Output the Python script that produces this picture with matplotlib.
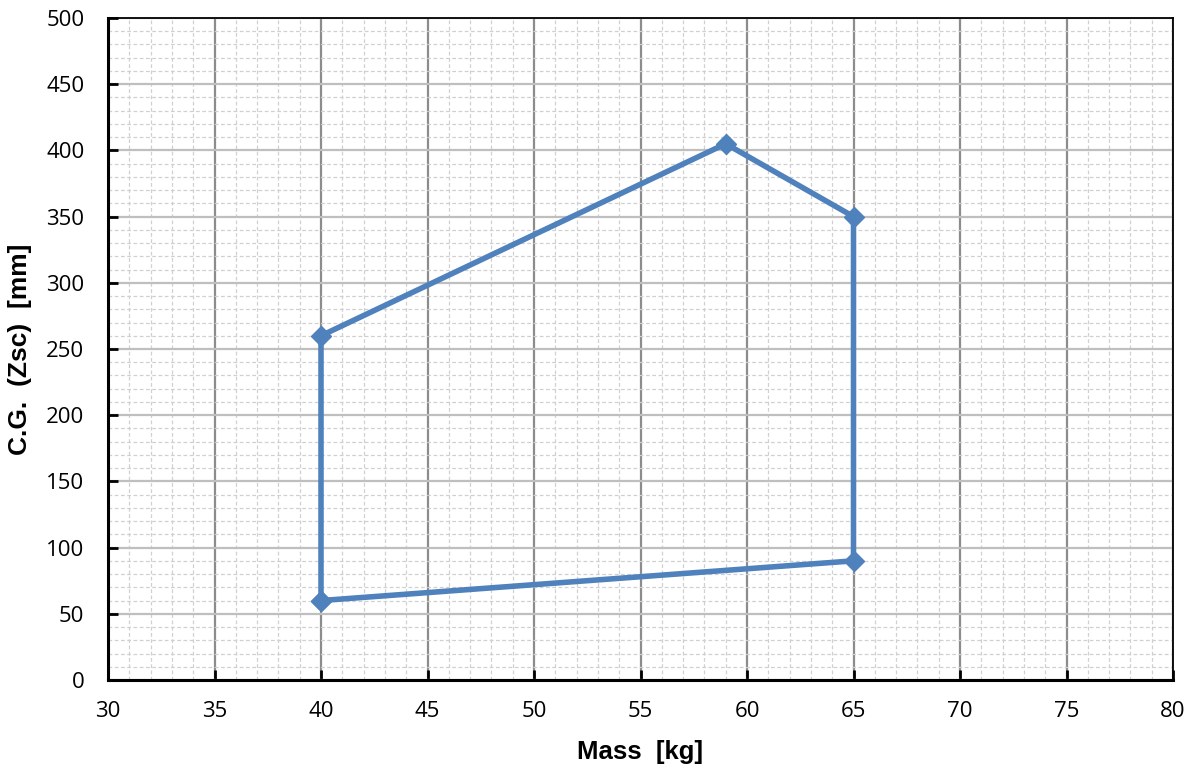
import matplotlib

matplotlib.use("Agg")
import matplotlib.pyplot as plt
from matplotlib.ticker import MultipleLocator

# envelope corners (mass kg, C.G. Zsc mm), closed polygon
mass = [40, 40, 59, 65, 65, 40]
zsc = [60, 260, 405, 350, 90, 60]

LINE_BLUE = "#4f81bd"

fig = plt.figure(figsize=(11.92, 7.72), dpi=100)
ax = fig.add_axes([108 / 1192, 1 - 680 / 772, (1173 - 108) / 1192, (680 - 18) / 772])

ax.set_xlim(30, 80)
ax.set_ylim(0, 500)
ax.xaxis.set_major_locator(MultipleLocator(5))
ax.xaxis.set_minor_locator(MultipleLocator(1))
ax.yaxis.set_major_locator(MultipleLocator(50))
ax.yaxis.set_minor_locator(MultipleLocator(10))

ax.grid(True, axis="x", which="major", color="#8c8c8c", linewidth=1.6)
ax.grid(True, axis="y", which="major", color="#bfbfbf", linewidth=1.6)
ax.grid(True, which="minor", color="#d0d0d0", linestyle=(0, (3, 2)), linewidth=0.9)
ax.set_axisbelow(True)

ax.plot(mass, zsc, color=LINE_BLUE, linewidth=4, marker="D", markersize=10.5,
        markerfacecolor=LINE_BLUE, markeredgecolor=LINE_BLUE, zorder=3)

for side in ("left", "bottom"):
    ax.spines[side].set_linewidth(2.2)
for side in ("top", "right"):
    ax.spines[side].set_linewidth(1.3)
ax.tick_params(which="major", direction="in", length=7, width=2, labelsize=16)
ax.tick_params(axis="y", pad=17)
ax.tick_params(axis="x", pad=15)
ax.tick_params(which="minor", length=0)
for lab in ax.get_xticklabels() + ax.get_yticklabels():
    lab.set_family("Open Sans")

ax.set_xlabel("Mass  [kg]", fontsize=18.5, fontweight="bold", family="Liberation Sans")
ax.set_ylabel("C.G.  (Zsc)  [mm]", fontsize=19, fontweight="bold", family="Liberation Sans")
ax.xaxis.set_label_coords(0.5, -60 / 662, transform=ax.transAxes)
ax.yaxis.set_label_coords(-76 / 1065, 0.5, transform=ax.transAxes)

fig.savefig("out.png", dpi=100)
